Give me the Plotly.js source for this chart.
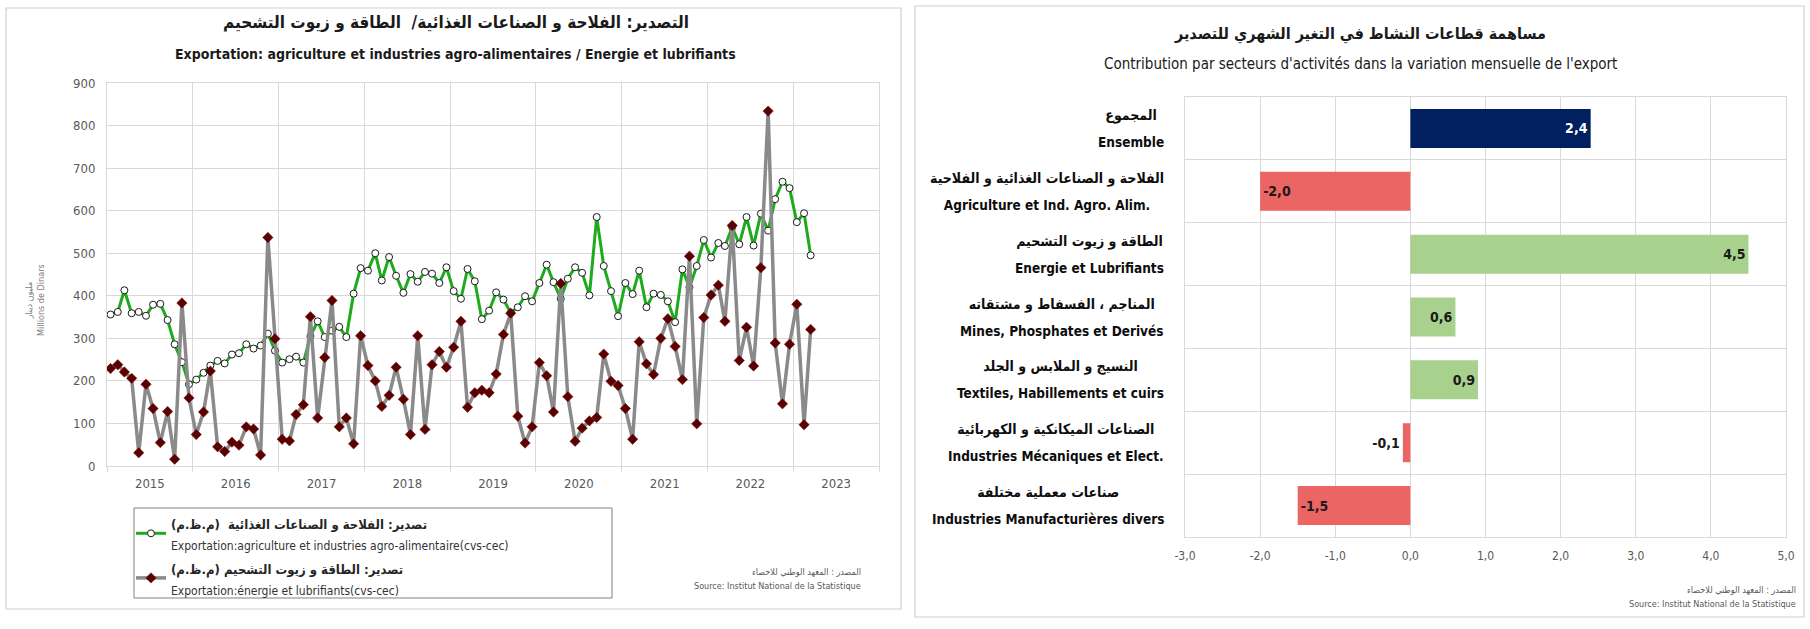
<!DOCTYPE html>
<html>
<head>
<meta charset="utf-8">
<script src="https://cdn.plot.ly/plotly-3.0.1.min.js"></script>
<style>
  html, body { margin: 0; padding: 0; background: #ffffff; }
  #chart { width: 1810px; height: 629px; }
</style>
</head>
<body>
<div id="chart"></div>
<script>
// ---------- DATA ----------
// Monthly exports (Millions de Dinars), Jan 2015 .. Mar 2023
const startYear = 2015;
const agriFood = [
  356, 362, 413, 359, 362, 353, 379, 381, 343, 286, 244, 192,
  203, 219, 236, 247, 241, 262, 265, 286, 276, 283, 311, 271,
  243, 251, 257, 243, 305, 340, 303, 318, 327, 303, 405, 465,
  459, 500, 436, 491, 447, 407, 451, 433, 456, 452, 430, 467,
  411, 393, 463, 434, 345, 365, 408, 391, 360, 373, 399, 387,
  430, 473, 432, 393, 440, 467, 454, 401, 585, 470, 411, 352,
  430, 404, 459, 373, 405, 402, 387, 338, 462, 420, 470, 531,
  490, 524, 517, 561, 521, 585, 518, 593, 553, 627, 668, 653,
  573, 594, 495
];
const energy = [
  229, 238, 221, 206, 31, 192, 135, 55, 128, 16, 383, 160,
  74, 127, 223, 45, 34, 56, 49, 92, 87, 26, 537, 299,
  63, 59, 121, 144, 351, 113, 255, 389, 92, 113, 52, 306,
  236, 200, 140, 166, 232, 157, 74, 306, 86, 238, 269, 232,
  279, 340, 138, 172, 178, 172, 216, 309, 359, 117, 54, 92,
  243, 212, 127, 429, 163, 58, 89, 106, 114, 263, 199, 189,
  135, 63, 292, 240, 215, 300, 346, 281, 203, 493, 99, 349,
  402, 425, 340, 565, 248, 326, 235, 466, 834, 289, 146, 286,
  380, 97, 321
];
const seriesNamesAr = [
  "تصدير: الفلاحة و الصناعات الغذائية  (م.ظ.م)",
  "تصدير: الطاقة و زيوت التشحيم (م.ظ.م)"
];
const seriesNamesFr = [
  "Exportation:agriculture et industries agro-alimentaire(cvs-cec)",
  "Exportation:énergie et lubrifiants(cvs-cec)"
];

// Contribution by sector (points)
const sectorsAr = [
  "المجموع",
  "الفلاحة و الصناعات الغذائية و الفلاحية",
  "الطاقة و زيوت التشحيم",
  "المناجم ، الفسفاط و مشتقاته",
  "النسيج و الملابس و الجلد",
  "الصناعات الميكانكية و الكهربائية",
  "صناعات معملية مختلفة"
];
const sectorsFr = [
  "Ensemble",
  "Agriculture et Ind. Agro. Alim.",
  "Energie et Lubrifiants",
  "Mines, Phosphates et Derivés",
  "Textiles, Habillements et cuirs",
  "Industries Mécaniques et Elect.",
  "Industries Manufacturières divers"
];
const contributions = [2.4, -2.0, 4.5, 0.6, 0.9, -0.1, -1.5];
const contribTickVals = [-3, -2, -1, 0, 1, 2, 3, 4, 5];
const contribTickText = ["-3,0", "-2,0", "-1,0", "0,0", "1,0", "2,0", "3,0", "4,0", "5,0"];

// ---------- BUILD ----------
const W = 1810, H = 629;
const px = x => x / W;
const py = y => 1 - y / H;
const FONT = "'Liberation Sans Narrow', 'DejaVu Sans Condensed', 'Roboto Condensed', 'DejaVu Sans', sans-serif";
const RLM = "\u200F";

const months = agriFood.map((_, k) => {
  const y = startYear + Math.floor(k / 12);
  const m = (k % 12) + 1;
  return y + "-" + String(m).padStart(2, "0") + "-16";
});

const legendName = i =>
  "<span style='font-size:13px;font-weight:bold;color:#262626'>" + RLM + seriesNamesAr[i] + RLM + "</span><br>" +
  "<span style='font-size:12px;color:#333333'>" + seriesNamesFr[i] + "</span>";

const barColors = contributions.map((v, i) => i === 0 ? "#002060" : (v < 0 ? "#EA6563" : "#A9D18E"));
const barTextColors = contributions.map((v, i) => i === 0 ? "#ffffff" : "#1a1a1a");
const barTextPos = contributions.map(v => Math.abs(v) < 0.3 ? "outside" : "inside");
const barText = contributions.map(v => v.toFixed(1).replace(".", ","));

const traces = [
  {
    type: "scatter", mode: "lines+markers", x: months, y: agriFood,
    xaxis: "x", yaxis: "y", name: legendName(0),
    line: { color: "#1DAA1D", width: 3 },
    marker: { symbol: "circle", size: 7, color: "#ffffff", line: { color: "#1a1a1a", width: 1 } },
    hoverinfo: "skip"
  },
  {
    type: "scatter", mode: "lines+markers", x: months, y: energy,
    xaxis: "x", yaxis: "y", name: legendName(1),
    line: { color: "#8a8a8a", width: 3.5 },
    marker: { symbol: "diamond", size: 8, color: "#5a0000", line: { color: "#7a1010", width: 0.5 } },
    hoverinfo: "skip"
  },
  {
    type: "bar", orientation: "h", x: contributions, y: sectorsFr,
    xaxis: "x2", yaxis: "y2", showlegend: false,
    width: 0.62,
    marker: { color: barColors, line: { width: 0 } },
    text: barText,
    textposition: barTextPos,
    insidetextanchor: "end",
    constraintext: "none",
    cliponaxis: false,
    textfont: { family: FONT, size: 14, color: barTextColors, weight: "bold" },
    hoverinfo: "skip"
  }
];

const annotations = [];
function addText(text, x, y, opts) {
  annotations.push(Object.assign({
    text: text, x: px(x), y: py(y), xref: "paper", yref: "paper",
    showarrow: false, xanchor: "center", yanchor: "middle",
    font: { family: FONT, size: 13, color: "#1a1a1a" }
  }, opts || {}));
}

// Left panel titles
addText("<b>التصدير: الفلاحة و الصناعات الغذائية/  الطاقة و زيوت التشحيم</b>", 456, 23, { font: { family: FONT, size: 17, color: "#1a1a1a" } });
addText("<b>Exportation: agriculture et industries agro-alimentaires / Energie et lubrifiants</b>", 456, 54, { font: { family: FONT, size: 14, color: "#1a1a1a" } });
// Y axis title
addText("مليون دينار<br>Millions de Dinars", 35, 300, { textangle: -90, font: { family: FONT, size: 9, color: "#808080" } });
// Left source
addText(RLM + "المصدر : المعهد الوطني للاحصاء" + RLM, 863, 572, { xanchor: "right", font: { family: FONT, size: 9, color: "#595959" } });
addText("Source: Institut National de la Statistique", 863, 586, { xanchor: "right", font: { family: FONT, size: 9, color: "#595959" } });

// Right panel titles
addText("<b>مساهمة قطاعات النشاط في التغير الشهري للتصدير</b>", 1360, 34, { font: { family: FONT, size: 16, color: "#1a1a1a" } });
addText("Contribution par secteurs d'activités dans la variation mensuelle de l'export", 1360, 64, { font: { family: FONT, size: 15, color: "#1a1a1a" } });
// Right source
addText(RLM + "المصدر : المعهد الوطني للاحصاء" + RLM, 1798, 590, { xanchor: "right", font: { family: FONT, size: 9, color: "#595959" } });
addText("Source: Institut National de la Statistique", 1798, 604, { xanchor: "right", font: { family: FONT, size: 9, color: "#595959" } });

// Category labels (Arabic above French, centred block, right edge fixed)
sectorsFr.forEach((fr, i) => {
  annotations.push({
    text: "<b><span style='font-size:14px'>" + sectorsAr[i] + "</span><br><span style='font-size:13.5px'>" + fr + "</span></b>",
    xref: "paper", yref: "y2", x: px(1166), y: fr,
    xanchor: "right", yanchor: "middle", align: "center", showarrow: false,
    font: { family: FONT, size: 21, color: "#0d0d0d" }
  });
});

const shapes = [
  { type: "rect", xref: "paper", yref: "paper", x0: px(6), x1: px(901), y0: py(8), y1: py(609), line: { color: "#d0d0d0", width: 1.2 }, fillcolor: "rgba(0,0,0,0)", layer: "below" },
  { type: "rect", xref: "paper", yref: "paper", x0: px(915), x1: px(1804), y0: py(6), y1: py(617), line: { color: "#d0d0d0", width: 1.2 }, fillcolor: "rgba(0,0,0,0)", layer: "below" },
  // legend frame
  { type: "rect", xref: "paper", yref: "paper", x0: px(134), x1: px(612), y0: py(508), y1: py(598), line: { color: "#808080", width: 1 }, fillcolor: "rgba(0,0,0,0)", layer: "above" }
];

const gridC = "#d9d9d9";
const layout = {
  width: W, height: H,
  margin: { l: 0, r: 0, t: 0, b: 0 },
  paper_bgcolor: "#ffffff", plot_bgcolor: "#ffffff",
  separators: ", ",
  font: { family: FONT, size: 12, color: "#595959" },
  showlegend: true,
  xaxis: {
    domain: [px(107), px(879)], anchor: "y", type: "date",
    range: ["2015-01-01", "2024-01-01"], dtick: "M12", tick0: "2015-01-01",
    tickformat: "%Y", ticklabelmode: "period",
    showgrid: true, gridcolor: gridC, gridwidth: 1,
    showline: true, mirror: true, linecolor: gridC,
    ticks: "outside", ticklen: 5, tickcolor: gridC,
    tickfont: { family: FONT, size: 13, color: "#595959" },
    fixedrange: true
  },
  yaxis: {
    domain: [py(466), py(83)], anchor: "x",
    range: [0, 900], dtick: 100,
    showgrid: true, gridcolor: gridC, gridwidth: 1,
    showline: true, mirror: true, linecolor: gridC, zeroline: false,
    ticks: "", ticklabelstandoff: 8,
    tickfont: { family: FONT, size: 13, color: "#595959" },
    fixedrange: true
  },
  xaxis2: {
    domain: [px(1185), px(1786)], anchor: "y2",
    range: [-3, 5], tickmode: "array", tickvals: contribTickVals, ticktext: contribTickText,
    showgrid: true, gridcolor: gridC, gridwidth: 1, zeroline: false,
    showline: true, mirror: true, linecolor: gridC,
    ticks: "", ticklabelstandoff: 8,
    tickfont: { family: FONT, size: 12, color: "#595959" },
    fixedrange: true
  },
  yaxis2: {
    domain: [py(537), py(97)], anchor: "x2",
    type: "category", autorange: "reversed", tickson: "boundaries",
    showgrid: true, gridcolor: gridC, gridwidth: 1,
    showline: true, mirror: true, linecolor: gridC,
    showticklabels: false, ticks: "", fixedrange: true
  },
  legend: {
    x: px(131), y: py(506), xanchor: "left", yanchor: "top",
    borderwidth: 0, bgcolor: "rgba(0,0,0,0)",
    font: { family: FONT, size: 16, color: "#404040" },
    itemwidth: 30, tracegroupgap: 0
  },
  shapes: shapes,
  annotations: annotations
};

Plotly.newPlot("chart", traces, layout, { staticPlot: true, displayModeBar: false });
</script>
</body>
</html>
